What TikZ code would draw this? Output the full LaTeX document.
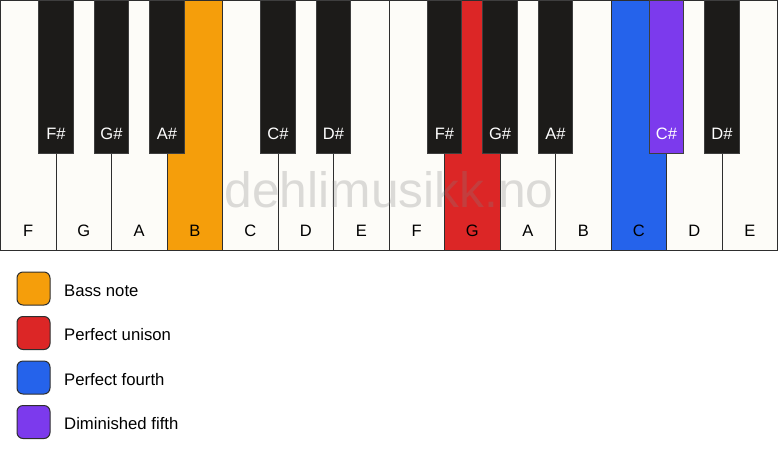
\documentclass[tikz,border=0pt]{standalone}
\usepackage{fontspec}
\setmainfont{Liberation Sans}
\definecolor{keywhite}{HTML}{FDFCF8}
\definecolor{keyblack}{HTML}{1C1B19}
\definecolor{keyline}{HTML}{2E2E2E}
\definecolor{cbass}{HTML}{F59E0B}
\definecolor{cunison}{HTML}{DC2626}
\definecolor{cfourth}{HTML}{2563EB}
\definecolor{cdim}{HTML}{7C3AED}
\tikzset{
  whitekey/.style={draw=keyline, line width=1pt, fill=keywhite},
  blackkey/.style={draw=keyline!80!gray, line width=0.8pt, fill=keyblack},
  wlabel/.style={font=\fontsize{16.5}{18}\selectfont, text=black, inner sep=0pt},
  blabel/.style={font=\fontsize{16.5}{18}\selectfont, text=white, inner sep=0pt},
  legbox/.style={draw=keyline, line width=1pt, rounded corners=6pt, minimum width=33pt, minimum height=33pt, inner sep=0pt},
  legtext/.style={font=\fontsize{16.7}{18}\selectfont, anchor=base west, inner sep=0pt},
  wmark/.style={font=\fontsize{49.7}{52}\selectfont, text=gray, text opacity=0.27, inner sep=0pt, anchor=base}
}
\begin{document}
\begin{tikzpicture}[x=1pt,y=1pt]
\useasboundingbox (0,0) rectangle (778,-461);
\def\kw{55.5}
% white keys
\foreach \i/\n/\c in {0/F/keywhite,1/G/keywhite,2/A/keywhite,3/B/cbass,4/C/keywhite,5/D/keywhite,6/E/keywhite,7/F/keywhite,8/G/cunison,9/A/keywhite,10/B/keywhite,11/C/cfourth,12/D/keywhite,13/E/keywhite}{
  \draw[whitekey, fill=\c] (\i*\kw+0.5,-0.5) rectangle (\i*\kw+\kw+0.5,-250);
  \node[wlabel, anchor=base] (w\i) at (\i*\kw+\kw/2+0.5,-236) {\n};
}
% watermark
\node[wmark] (wm) at (389,-207) {dehlimusikk.no};
% black keys
\foreach \j/\n/\c in {1/F\#/keyblack,2/G\#/keyblack,3/A\#/keyblack,5/C\#/keyblack,6/D\#/keyblack,8/F\#/keyblack,9/G\#/keyblack,10/A\#/keyblack,12/C\#/cdim,13/D\#/keyblack}{
  \draw[blackkey, fill=\c] (\j*\kw+0.5-17.2,-0.5) rectangle (\j*\kw+0.5+17.2,-153);
  \node[blabel, anchor=base] (b\j) at (\j*\kw+0.5,-139) {\n};
}
% legend
\foreach \k/\c/\t in {0/cbass/Bass note,1/cunison/Perfect unison,2/cfourth/Perfect fourth,3/cdim/Diminished fifth}{
  \node[legbox, fill=\c] (lb\k) at (33.5,-288.5-\k*44.5) {};
  \node[legtext] (lt\k) at (64,-296-\k*44.5) {\t};
}
\end{tikzpicture}
\end{document}
